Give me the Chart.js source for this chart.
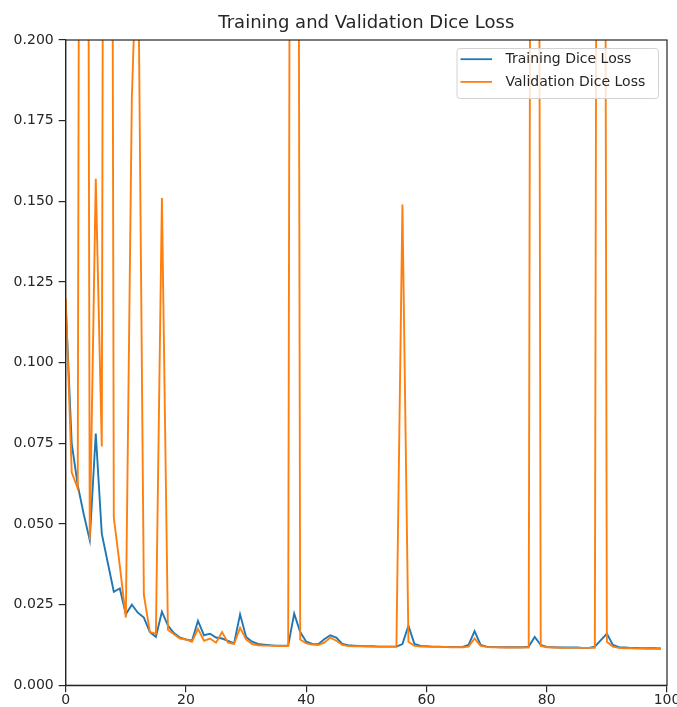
<!DOCTYPE html>
<html>
<head>
<meta charset="utf-8">
<script src="https://cdn.jsdelivr.net/npm/chart.js@4.4.1/dist/chart.umd.min.js"></script>
<style>
  html, body { margin: 0; padding: 0; background: #fff; }
  #wrap { width: 677px; height: 707px; }
</style>
</head>
<body>
<div id="wrap"><canvas id="c" width="677" height="707"></canvas></div>
<script>
// Dice loss per epoch (epochs 0..99)
const trainDiceLoss = [
  0.118, 0.075, 0.062, 0.053, 0.045, 0.078, 0.047, 0.038, 0.029, 0.030,
  0.022, 0.025, 0.0225, 0.021, 0.0165, 0.015, 0.0228, 0.0185, 0.0162, 0.0148,
  0.0142, 0.0138, 0.0200, 0.0155, 0.0160, 0.0148, 0.0145, 0.0138, 0.0130, 0.0220,
  0.0150, 0.0135, 0.0128, 0.0126, 0.0124, 0.0123, 0.0123, 0.0123, 0.0222, 0.0165,
  0.0135, 0.0128, 0.0127, 0.0143, 0.0155, 0.0148, 0.0128, 0.0124, 0.0123, 0.0122,
  0.0121, 0.0121, 0.0120, 0.0120, 0.0120, 0.0120, 0.0128, 0.0185, 0.0128, 0.0122,
  0.0121, 0.0120, 0.0120, 0.0119, 0.0119, 0.0119, 0.0119, 0.0125, 0.0168, 0.0125,
  0.0120, 0.0119, 0.0118, 0.0118, 0.0118, 0.0118, 0.0118, 0.0120, 0.0150, 0.0125,
  0.0119, 0.0118, 0.0117, 0.0117, 0.0117, 0.0117, 0.0116, 0.0116, 0.0120, 0.0140,
  0.0160, 0.0125, 0.0118, 0.0117, 0.0116, 0.0116, 0.0115, 0.0115, 0.0115, 0.0114
];
const valDiceLoss = [
  0.120, 0.066, 0.061, 0.90, 0.045, 0.157, 0.074, 0.90, 0.052, 0.037,
  0.021, 0.182, 0.24, 0.028, 0.0165, 0.016, 0.151, 0.0172, 0.0158, 0.0145,
  0.0142, 0.0135, 0.0175, 0.0138, 0.0145, 0.0132, 0.0165, 0.0132, 0.0128, 0.0178,
  0.0142, 0.0128, 0.0124, 0.0123, 0.0123, 0.0122, 0.0122, 0.0122, 0.90, 0.0142,
  0.0130, 0.0126, 0.0125, 0.0132, 0.0148, 0.0138, 0.0125, 0.0122, 0.0121, 0.0121,
  0.0121, 0.0120, 0.0120, 0.0120, 0.0120, 0.0120, 0.149, 0.0135, 0.0122, 0.0120,
  0.0120, 0.0119, 0.0119, 0.0119, 0.0118, 0.0118, 0.0118, 0.0120, 0.0145, 0.0122,
  0.0119, 0.0118, 0.0118, 0.0117, 0.0117, 0.0117, 0.0117, 0.0117, 0.90, 0.0122,
  0.0118, 0.0117, 0.0117, 0.0116, 0.0116, 0.0116, 0.0116, 0.0116, 0.0116, 0.90,
  0.0135, 0.0120, 0.0116, 0.0115, 0.0115, 0.0114, 0.0114, 0.0113, 0.0113, 0.0113
];
const seriesNames = ['Training Dice Loss', 'Validation Dice Loss'];
const seriesColors = ['#1f77b4', '#ff7f0e'];
const xRange = [0, 100];
const yRange = [0, 0.2];

const FONT = '"DejaVu Sans", "Liberation Sans", sans-serif';
const INK = '#262626';

// Full box around the plot area plus a framed legend in the upper right
const framePlugin = {
  id: 'frameAndLegend',
  afterDatasetsDraw(chart) {
    const { ctx, chartArea: a } = chart;
    ctx.save();
    ctx.strokeStyle = INK;
    ctx.lineWidth = 1.2;
    ctx.strokeRect(a.left, a.top, a.right - a.left, a.bottom - a.top);

    const w = 201.5, h = 50;
    const x = a.right - 210, y = a.top + 8.5;
    ctx.beginPath();
    ctx.roundRect(x, y, w, h, 3);
    ctx.fillStyle = 'rgba(255,255,255,0.8)';
    ctx.fill();
    ctx.strokeStyle = '#d2d2d2';
    ctx.lineWidth = 1;
    ctx.stroke();

    ctx.font = '14px ' + FONT;
    ctx.textBaseline = 'middle';
    ctx.textAlign = 'left';
    chart.data.datasets.forEach((ds, i) => {
      const ly = y + 10.7 + i * 22.7;
      ctx.strokeStyle = ds.borderColor;
      ctx.lineWidth = 1.8;
      ctx.beginPath();
      ctx.moveTo(x + 3.5, ly);
      ctx.lineTo(x + 35, ly);
      ctx.stroke();
      ctx.fillStyle = INK;
      ctx.fillText(ds.label, x + 48.5, ly + 0.5);
    });
    ctx.restore();
  }
};

const toPoints = arr => arr.map((v, i) => ({ x: i, y: v }));

new Chart(document.getElementById('c'), {
  type: 'line',
  data: {
    datasets: [
      {
        label: seriesNames[0],
        data: toPoints(trainDiceLoss),
        borderColor: seriesColors[0],
        backgroundColor: seriesColors[0],
        borderWidth: 1.9,
        pointRadius: 0,
        tension: 0,
        order: 1
      },
      {
        label: seriesNames[1],
        data: toPoints(valDiceLoss),
        borderColor: seriesColors[1],
        backgroundColor: seriesColors[1],
        borderWidth: 1.9,
        pointRadius: 0,
        tension: 0,
        order: 0
      }
    ]
  },
  options: {
    responsive: false,
    animation: false,
    layout: { padding: { top: 0, left: 0, right: 10, bottom: 0 } },
    plugins: {
      legend: { display: false },
      tooltip: { enabled: false },
      title: {
        display: true,
        text: 'Training and Validation Dice Loss',
        fullSize: false,
        color: INK,
        font: { family: FONT, size: 18, weight: 'normal' },
        padding: { top: 13, bottom: 5.4 }
      }
    },
    scales: {
      x: {
        type: 'linear',
        min: xRange[0],
        max: xRange[1],
        grid: { drawOnChartArea: false, drawTicks: true, tickLength: 7, color: INK, lineWidth: 1.2 },
        border: { display: true, color: INK, width: 1.2 },
        ticks: {
          stepSize: 20,
          padding: 0,
          color: INK,
          maxRotation: 0,
          font: { family: FONT, size: 14 },
          callback: v => String(v)
        },
        afterFit(scale) {
          scale.height = 21.7;
          scale.paddingLeft = 0;
          scale.paddingRight = 0;
        }
      },
      y: {
        type: 'linear',
        min: yRange[0],
        max: yRange[1],
        grid: { drawOnChartArea: false, drawTicks: true, tickLength: 7, color: INK, lineWidth: 1.2 },
        border: { display: true, color: INK, width: 1.2 },
        ticks: {
          stepSize: 0.025,
          padding: 5,
          color: INK,
          font: { family: FONT, size: 14 },
          callback: v => Number(v).toFixed(3)
        },
        afterFit(scale) {
          scale.width = 65.7;
          scale.paddingTop = 0;
          scale.paddingBottom = 0;
        }
      }
    }
  },
  plugins: [framePlugin]
});
</script>
</body>
</html>
